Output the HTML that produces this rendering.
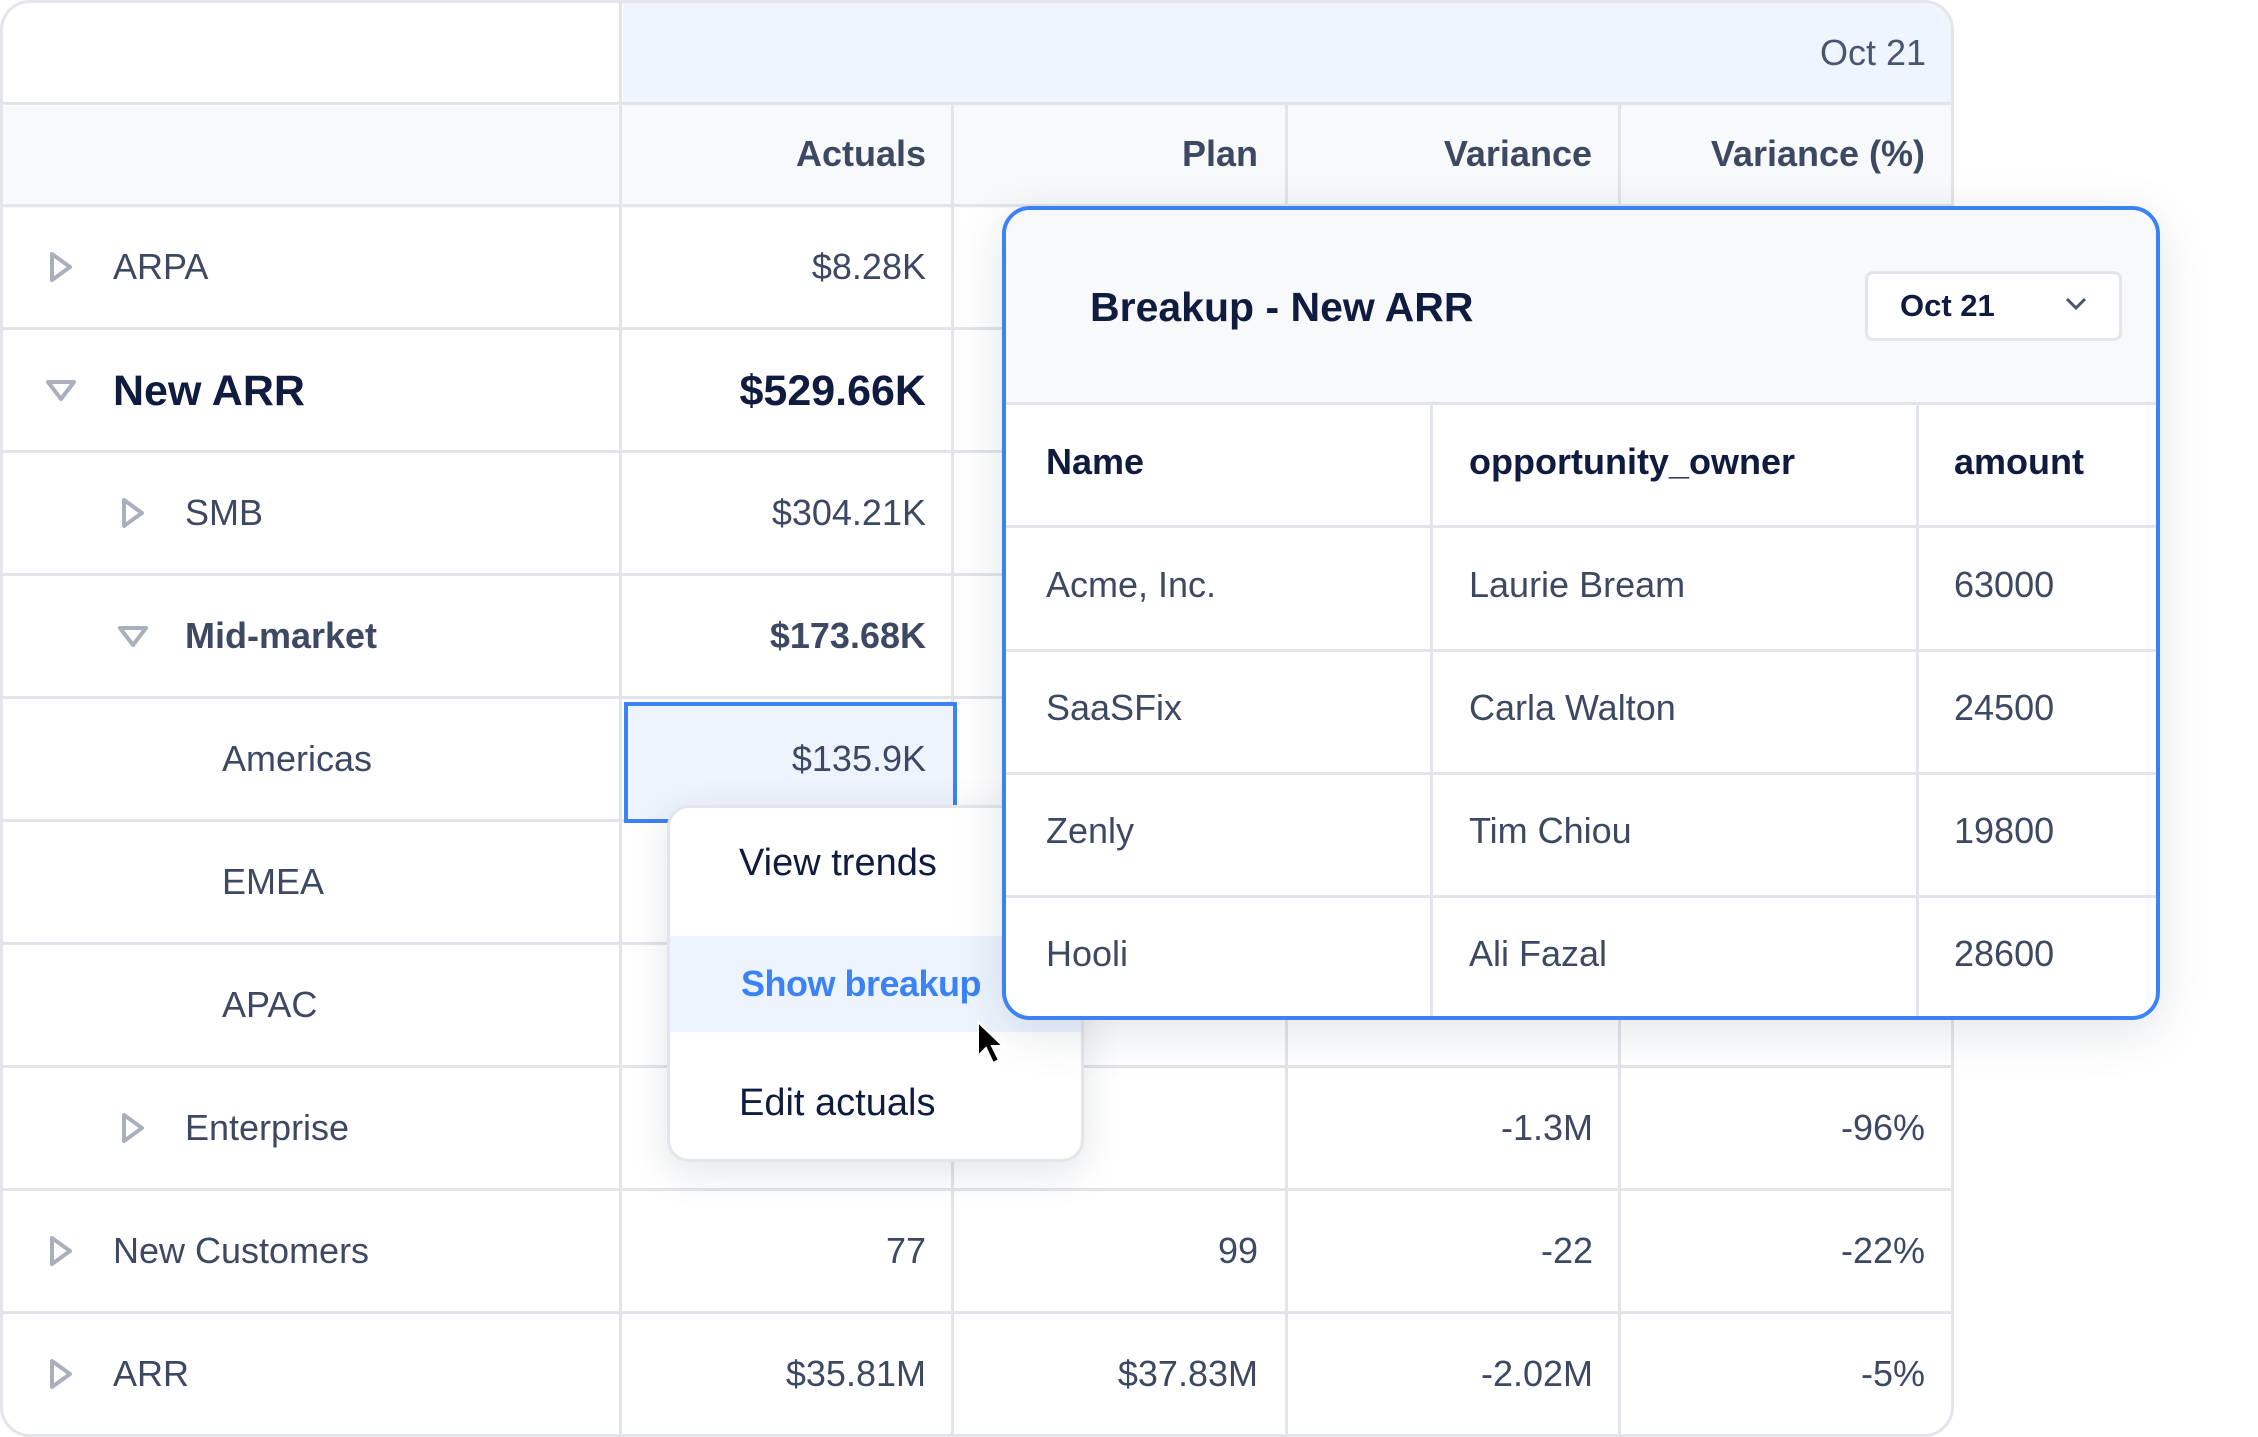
<!DOCTYPE html>
<html><head><meta charset="utf-8"><style>
*{margin:0;padding:0;box-sizing:border-box}
body{width:2258px;height:1437px;background:#fff;position:relative;overflow:hidden;font-family:"Liberation Sans",sans-serif;color:#3d4863}
.a{position:absolute}
.h{background:#e2e4ea}
.t{position:absolute;white-space:nowrap;font-size:36px;line-height:40px}
.r{text-align:right}
</style></head><body>
<div class="a" style="left:0;top:0;width:1954px;height:1437px;border:3px solid #e3e5ea;border-radius:30px;overflow:hidden;background:#fff">
  <div class="a" style="left:620px;top:0;width:1340px;height:103px;background:#eef5ff"></div>
  <div class="a" style="left:0;top:103px;width:1960px;height:102px;background:#f8f9fb"></div>
</div>
<div class="a h" style="left:0;top:102px;width:1953px;height:3px"></div>
<div class="a h" style="left:0;top:204px;width:1953px;height:3px"></div>
<div class="a h" style="left:0;top:327px;width:1953px;height:3px"></div>
<div class="a h" style="left:0;top:450px;width:1953px;height:3px"></div>
<div class="a h" style="left:0;top:573px;width:1953px;height:3px"></div>
<div class="a h" style="left:0;top:696px;width:1953px;height:3px"></div>
<div class="a h" style="left:0;top:819px;width:1953px;height:3px"></div>
<div class="a h" style="left:0;top:942px;width:1953px;height:3px"></div>
<div class="a h" style="left:0;top:1065px;width:1953px;height:3px"></div>
<div class="a h" style="left:0;top:1188px;width:1953px;height:3px"></div>
<div class="a h" style="left:0;top:1311px;width:1953px;height:3px"></div>
<div class="a h" style="left:619px;top:0;width:3px;height:1437px"></div>
<div class="a h" style="left:951px;top:103px;width:3px;height:1334px"></div>
<div class="a h" style="left:1285px;top:103px;width:3px;height:1334px"></div>
<div class="a h" style="left:1618px;top:103px;width:3px;height:1334px"></div>

<div class="t r" style="left:1600px;width:326px;top:33px;color:#4a5570">Oct 21</div>
<div class="t r" style="left:630px;width:296px;top:134px;font-weight:bold;color:#3d4863">Actuals</div>
<div class="t r" style="left:960px;width:298px;top:134px;font-weight:bold">Plan</div>
<div class="t r" style="left:1290px;width:302px;top:134px;font-weight:bold">Variance</div>
<div class="t r" style="left:1625px;width:300px;top:134px;font-weight:bold">Variance (%)</div>

<svg class="a" style="left:0;top:0" width="300" height="1437">
<g fill="none" stroke="#a9afbd" stroke-width="4" stroke-linejoin="round">
<path d="M52 254 L70 267 L52 280 Z"/>
<path d="M48 382 L74 382 L61 399 Z"/>
<path d="M124 500 L142 513 L124 526 Z"/>
<path d="M120 628 L146 628 L133 645 Z"/>
<path d="M124 1115 L142 1128 L124 1141 Z"/>
<path d="M52 1238 L70 1251 L52 1264 Z"/>
<path d="M52 1361 L70 1374 L52 1387 Z"/>
</g></svg>

<div class="t" style="left:113px;top:247px">ARPA</div>
<div class="t" style="left:113px;top:368px;font-size:43px;line-height:46px;font-weight:bold;color:#0f1c3f">New ARR</div>
<div class="t" style="left:185px;top:493px">SMB</div>
<div class="t" style="left:185px;top:616px;font-weight:bold">Mid-market</div>
<div class="t" style="left:222px;top:739px">Americas</div>
<div class="t" style="left:222px;top:862px">EMEA</div>
<div class="t" style="left:222px;top:985px">APAC</div>
<div class="t" style="left:185px;top:1108px">Enterprise</div>
<div class="t" style="left:113px;top:1231px">New Customers</div>
<div class="t" style="left:113px;top:1354px">ARR</div>

<div class="t r" style="left:630px;width:296px;top:247px">$8.28K</div>
<div class="t r" style="left:630px;width:296px;top:368px;font-size:43px;line-height:46px;font-weight:bold;color:#0f1c3f">$529.66K</div>
<div class="t r" style="left:630px;width:296px;top:493px">$304.21K</div>
<div class="t r" style="left:630px;width:296px;top:616px;font-weight:bold">$173.68K</div>

<div class="a" style="left:624px;top:702px;width:333px;height:121px;border:4px solid #3b82f6;background:#eef4fe"></div>
<div class="t r" style="left:630px;width:296px;top:739px">$135.9K</div>

<div class="t r" style="left:1290px;width:303px;top:1108px">-1.3M</div>
<div class="t r" style="left:1625px;width:300px;top:1108px">-96%</div>
<div class="t r" style="left:630px;width:296px;top:1231px">77</div>
<div class="t r" style="left:960px;width:298px;top:1231px">99</div>
<div class="t r" style="left:1290px;width:303px;top:1231px">-22</div>
<div class="t r" style="left:1625px;width:300px;top:1231px">-22%</div>
<div class="t r" style="left:630px;width:296px;top:1354px">$35.81M</div>
<div class="t r" style="left:960px;width:298px;top:1354px">$37.83M</div>
<div class="t r" style="left:1290px;width:303px;top:1354px">-2.02M</div>
<div class="t r" style="left:1625px;width:300px;top:1354px">-5%</div>

<div class="a" style="left:667px;top:805px;width:417px;height:357px;border:3px solid #e3e5ea;border-radius:22px;background:#fff;box-shadow:0 10px 40px rgba(20,30,60,0.12);overflow:hidden">
  <div class="a" style="left:0;top:128px;width:420px;height:96px;background:#edf4fe"></div>
</div>
<div class="t" style="left:739px;top:843px;font-size:38px;color:#0f1c3f">View trends</div>
<div class="t" style="left:741px;top:964px;font-size:36px;letter-spacing:-0.5px;font-weight:bold;color:#3b82f6">Show breakup</div>
<div class="t" style="left:739px;top:1083px;font-size:38px;color:#0f1c3f">Edit actuals</div>

<div class="a" style="left:1002px;top:206px;width:1158px;height:814px;border:4px solid #3b82f6;border-radius:28px;background:#fff;overflow:hidden;box-shadow:0 12px 50px rgba(20,30,60,0.12)">
  <div class="a" style="left:0;top:0;width:1160px;height:193px;background:#f8f9fb"></div>
  <div class="a h" style="left:0;top:192px;width:1160px;height:3px"></div>
  <div class="a h" style="left:0;top:315px;width:1160px;height:3px"></div>
  <div class="a h" style="left:0;top:439px;width:1160px;height:3px"></div>
  <div class="a h" style="left:0;top:562px;width:1160px;height:3px"></div>
  <div class="a h" style="left:0;top:685px;width:1160px;height:3px"></div>
  <div class="a h" style="left:424px;top:193px;width:3px;height:620px"></div>
  <div class="a h" style="left:910px;top:193px;width:3px;height:620px"></div>
</div>
<div class="t" style="left:1090px;top:285px;font-size:41px;line-height:44px;font-weight:bold;color:#0f1c3f">Breakup - New ARR</div>
<div class="a" style="left:1865px;top:271px;width:257px;height:70px;border:3px solid #e3e5ea;border-radius:8px;background:#fff"></div>
<div class="t" style="left:1900px;top:288px;font-size:31px;line-height:36px;font-weight:bold;color:#0f1c3f">Oct 21</div>
<svg class="a" style="left:2064px;top:296px" width="24" height="16"><path d="M3 3 L12 12 L21 3" fill="none" stroke="#4a5570" stroke-width="3"/></svg>

<div class="t" style="left:1046px;top:442px;font-weight:bold;color:#0f1c3f">Name</div>
<div class="t" style="left:1469px;top:442px;font-weight:bold;color:#0f1c3f">opportunity_owner</div>
<div class="t" style="left:1954px;top:442px;font-weight:bold;color:#0f1c3f">amount</div>
<div class="t" style="left:1046px;top:565px">Acme, Inc.</div>
<div class="t" style="left:1469px;top:565px">Laurie Bream</div>
<div class="t" style="left:1954px;top:565px">63000</div>
<div class="t" style="left:1046px;top:688px">SaaSFix</div>
<div class="t" style="left:1469px;top:688px">Carla Walton</div>
<div class="t" style="left:1954px;top:688px">24500</div>
<div class="t" style="left:1046px;top:811px">Zenly</div>
<div class="t" style="left:1469px;top:811px">Tim Chiou</div>
<div class="t" style="left:1954px;top:811px">19800</div>
<div class="t" style="left:1046px;top:934px">Hooli</div>
<div class="t" style="left:1469px;top:934px">Ali Fazal</div>
<div class="t" style="left:1954px;top:934px">28600</div>

<svg class="a" style="left:972px;top:1018px" width="40" height="50"><path d="M6 4 L6 38 L14 30 L21 45 L27 42 L20 28 L31 28 Z" fill="#000" stroke="#fff" stroke-width="2"/></svg>
</body></html>
